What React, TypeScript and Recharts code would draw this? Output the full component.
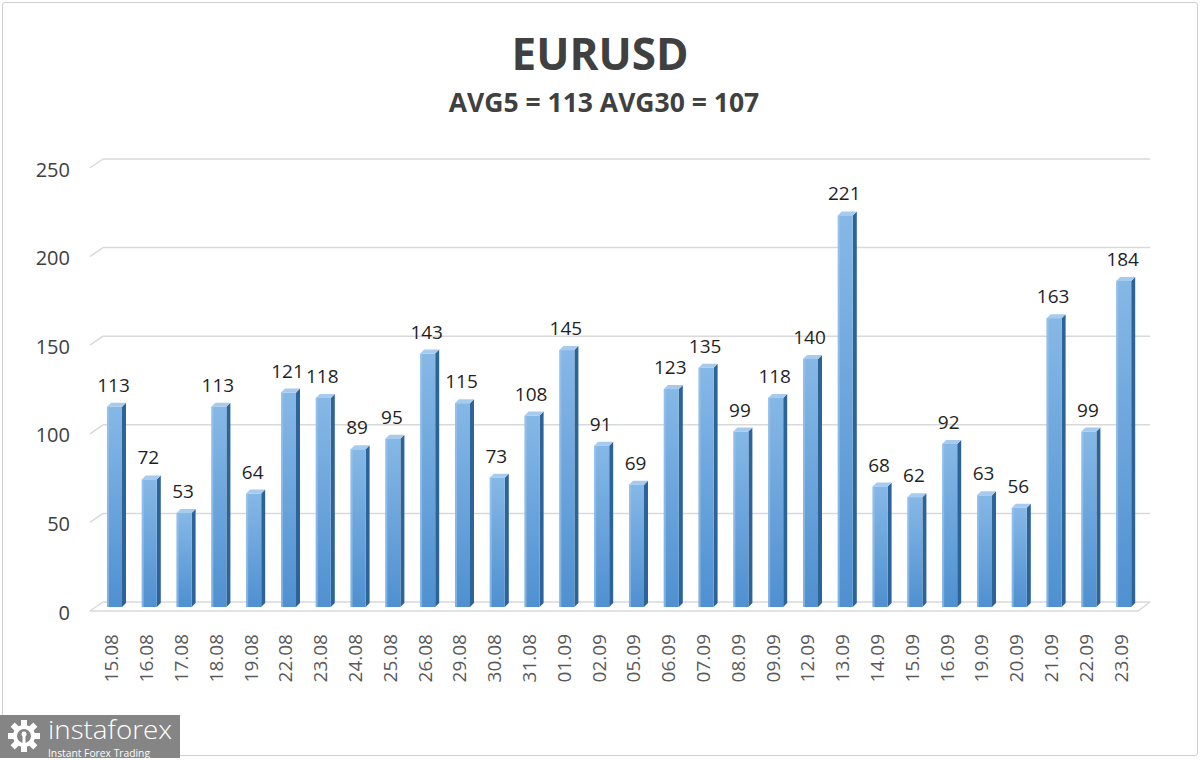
import React from 'react';
import { BarChart, Bar, XAxis, YAxis, CartesianGrid, LabelList } from 'recharts';

const dates = [
  '15.08', '16.08', '17.08', '18.08', '19.08', '22.08', '23.08', '24.08', '25.08', '26.08',
  '29.08', '30.08', '31.08', '01.09', '02.09', '05.09', '06.09', '07.09', '08.09', '09.09',
  '12.09', '13.09', '14.09', '15.09', '16.09', '19.09', '20.09', '21.09', '22.09', '23.09',
];
const volatility = [
  113, 72, 53, 113, 64, 121, 118, 89, 95, 143,
  115, 73, 108, 145, 91, 69, 123, 135, 99, 118,
  140, 221, 68, 62, 92, 63, 56, 163, 99, 184,
];
const yTicks = [0, 50, 100, 150, 200, 250];

const TITLE = 'EURUSD';
const SUBTITLE = 'AVG5 = 113 AVG30 = 107';

const FONT = '"Open Sans", "Noto Sans", sans-serif';
const GRID = '#d9d9d9';
const DEPTH = 4;

const data = dates.map((d, i) => ({ date: d, value: volatility[i] }));

// 3D-looking column: front face, right side, top
const Column = (props: any) => {
  const { x, y, width, height } = props;
  if (height <= 0) return null;
  const d = DEPTH;
  return (
    <g>
      <polygon
        points={`${x + width},${y} ${x + width + d},${y - d} ${x + width + d},${y + height - d} ${x + width},${y + height}`}
        fill="#2c6399"
      />
      <polygon
        points={`${x},${y} ${x + d},${y - d} ${x + width + d},${y - d} ${x + width},${y}`}
        fill="#a7cbee"
      />
      <rect x={x} y={y} width={width} height={height} fill="url(#frontGrad)" />
      <rect x={x} y={y} width={2} height={height} fill="#9ec6ec" opacity={0.6} />
    </g>
  );
};

// grid line drawn on the back wall with a slanted edge on the left
const GridLine = (props: any) => {
  const { x1, x2, y1 } = props;
  const back = y1 - 5;
  const front = y1 + 4;
  const isFloor = props.index === 0;
  return (
    <g key={props.key}>
      <line x1={x1 - 7} y1={front} x2={x1 + 6} y2={back} stroke={GRID} strokeWidth={1.5} />
      <line x1={x1 + 6} y1={back} x2={x2 + 9} y2={back} stroke={GRID} strokeWidth={1.5} />
      {isFloor && (
        <>
          <line x1={x1 - 7} y1={front} x2={x2 - 3} y2={front} stroke={GRID} strokeWidth={1.5} />
          <line x1={x2 - 3} y1={front} x2={x2 + 9} y2={back} stroke={GRID} strokeWidth={1.5} />
        </>
      )}
    </g>
  );
};

const YTick = (props: any) => {
  const { y, payload } = props;
  return (
    <text x={70} y={y + 5} textAnchor="end" dominantBaseline="central" fontFamily={FONT} fontSize={20} fill="#404040">
      {payload.value}
    </text>
  );
};

const XTick = (props: any) => {
  const { x, payload } = props;
  const cx = x - 3;
  const top = 634;
  return (
    <text
      x={cx}
      y={top}
      transform={`rotate(-90, ${cx}, ${top})`}
      textAnchor="end"
      dominantBaseline="central"
      fontFamily={FONT}
      fontSize={19}
      fill="#595959"
    >
      {payload.value}
    </text>
  );
};

const ValueLabel = (props: any) => {
  const { x, y, width, value } = props;
  return (
    <text x={x + width / 2 - 1} y={y - 15} textAnchor="middle" fontFamily={FONT} fontSize={19} fill="#1f1f1f">
      {value}
    </text>
  );
};

const Logo = () => (
  <g>
    <rect x={0} y={715} width={180} height={43} fill="#858585" />
    <g transform="translate(24,736)">
      {Array.from({ length: 8 }, (_, i) => (
        <rect key={i} x={-3} y={-16} width={6} height={7} fill="#fff" transform={`rotate(${i * 45})`} />
      ))}
      <circle r={11} fill="#fff" />
      <circle r={7} fill="#858585" />
      <circle cx={0} cy={-2} r={2.5} fill="#fff" />
      <rect x={-1.5} y={0} width={3} height={9} fill="#fff" />
    </g>
    <text
      x={48}
      y={739}
      fontFamily={FONT}
      fontSize={25}
      fill="#fff"
      fontWeight={300}
      textLength={124}
      lengthAdjust="spacingAndGlyphs"
    >
      instaforex
    </text>
    <text x={48} y={757} fontFamily={FONT} fontSize={10.5} fill="#fff" textLength={102} lengthAdjust="spacingAndGlyphs">
      Instant Forex Trading
    </text>
  </g>
);

export default function App() {
  return (
    <div style={{ position: 'absolute', left: 0, top: 0, width: 1200, height: 760, background: '#fff' }}>
      <div
        style={{
          position: 'absolute',
          left: 2,
          top: 2,
          width: 1194,
          height: 752,
          border: '1px solid #cfcfcf',
          borderRadius: 3,
        }}
      />
      <BarChart
        width={1200}
        height={760}
        data={data}
        margin={{ top: 164, right: 59, bottom: 0, left: 0 }}
        barSize={15}
      >
        <defs>
          <linearGradient id="frontGrad" x1="0" y1="0" x2="0" y2="1">
            <stop offset="0%" stopColor="#86b8e6" />
            <stop offset="100%" stopColor="#4f90d0" />
          </linearGradient>
        </defs>
        <CartesianGrid vertical={false} horizontal={(p: any) => <GridLine {...p} />} />
        <XAxis
          dataKey="date"
          height={153}
          axisLine={false}
          tickLine={false}
          interval={0}
          tick={<XTick />}
        />
        <YAxis
          width={97}
          domain={[0, 250]}
          ticks={yTicks}
          axisLine={false}
          tickLine={false}
          tick={<YTick />}
        />
        <Bar dataKey="value" shape={<Column />} isAnimationActive={false}>
          <LabelList dataKey="value" content={<ValueLabel />} />
        </Bar>
      </BarChart>
      <svg width={1200} height={760} style={{ position: 'absolute', left: 0, top: 0, pointerEvents: 'none' }}>
        <text x={600} y={70} textAnchor="middle" fontFamily={FONT} fontSize={44} fontWeight={700} fill="#404040">
          {TITLE}
        </text>
        <text x={604} y={112} textAnchor="middle" fontFamily={FONT} fontSize={26.5} fontWeight={700} fill="#404040">
          {SUBTITLE}
        </text>
        <Logo />
      </svg>
    </div>
  );
}
